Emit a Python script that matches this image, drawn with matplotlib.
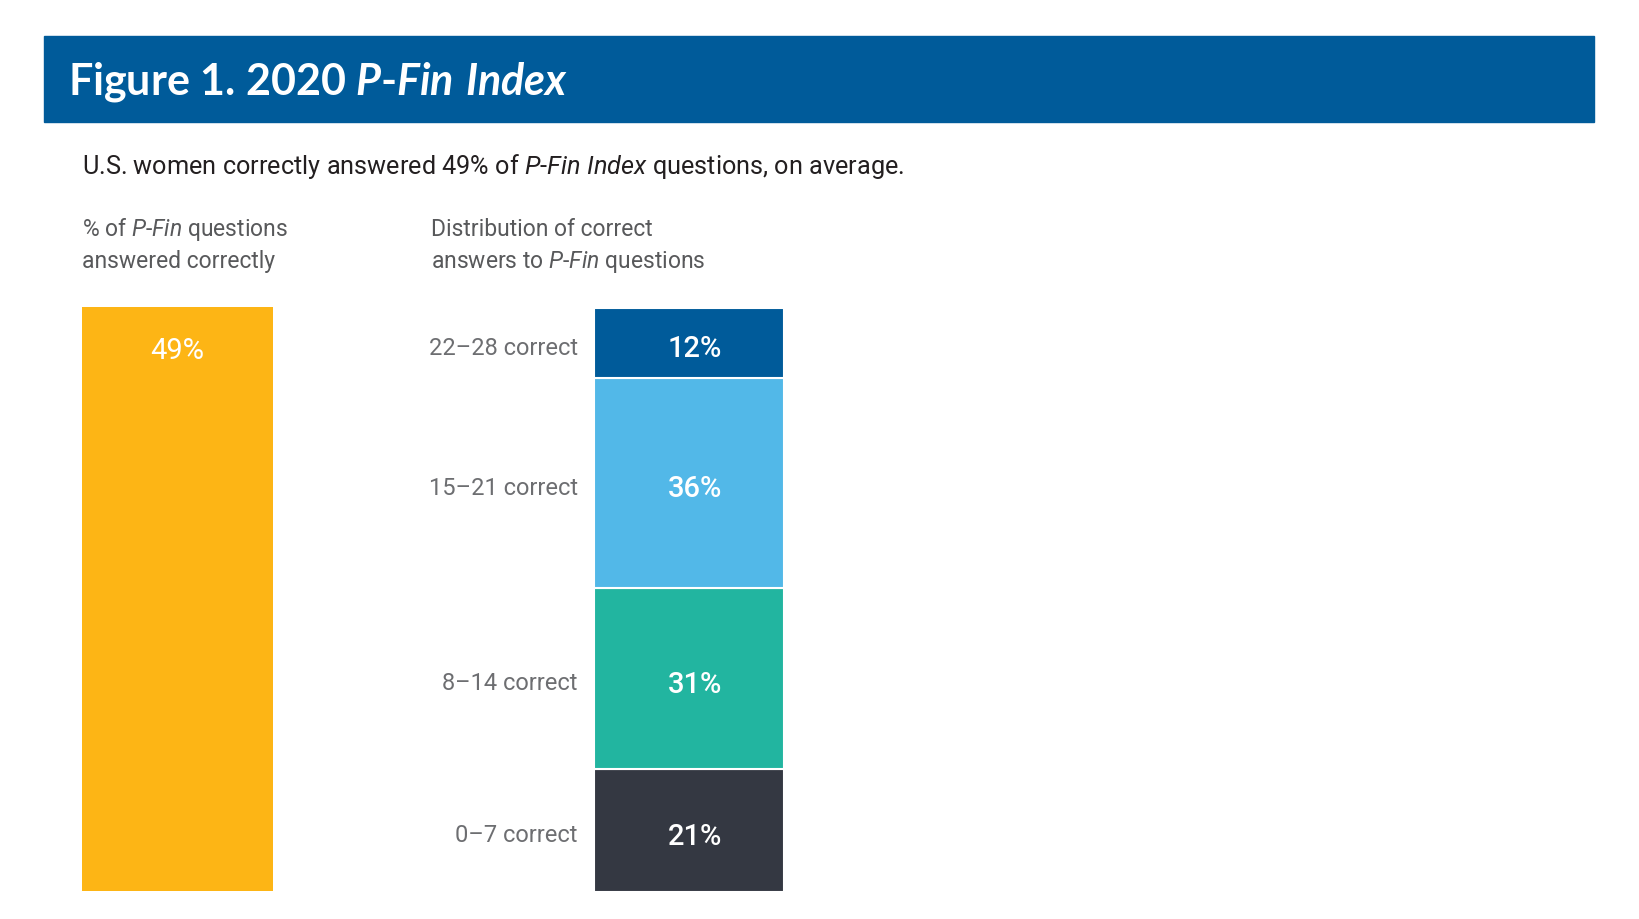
import matplotlib
matplotlib.use("Agg")
import matplotlib.pyplot as plt
from matplotlib.patches import Rectangle

# data
avg_label = "49%"
avg_value = 49
groups = ["0\u20137 correct", "8\u201314 correct", "15\u201321 correct", "22\u201328 correct"]
shares = [21, 31, 36, 12]

BODY = "Roboto"
HEAD = "Lato"
BLUE = "#005b9a"
SEG_COLORS = ["#343842", "#22b5a0", "#52b8e8", "#005b9a"]

plt.rcParams["mathtext.fontset"] = "custom"
plt.rcParams["mathtext.rm"] = BODY
plt.rcParams["mathtext.it"] = BODY + ":italic"
plt.rcParams["mathtext.bfit"] = HEAD + ":italic:bold"

W, H = 1640, 920
fig = plt.figure(figsize=(W / 100, H / 100), dpi=100)
fig.patch.set_facecolor("white")


def fx(px):
    return px / W


def fy(py):
    return 1 - py / H


# title banner
fig.patches.append(Rectangle((fx(44), fy(123)), fx(1594) - fx(44), fy(37) - fy(123),
                             transform=fig.transFigure, color=BLUE, zorder=0))
fig.text(fx(68), fy(95), r"Figure 1. 2020 $\mathbfit{P}$-$\mathbfit{Fin\ Index}$",
         fontsize=31, fontweight="bold", family=HEAD, color="white", va="baseline")

fig.text(fx(82), fy(174),
         r"U.S. women correctly answered 49% of $\mathit{P}$-$\mathit{Fin\ Index}$ questions, on average.",
         fontsize=18.2, family=BODY, color="#231f20", va="baseline")

hdr = dict(fontsize=16.5, family=BODY, color="#58595b", va="baseline")
fig.text(fx(82), fy(236), r"% of $\mathit{P}$-$\mathit{Fin}$ questions", **hdr)
fig.text(fx(82), fy(268), "answered correctly", **hdr)
fig.text(fx(431), fy(236), "Distribution of correct", **hdr)
fig.text(fx(431), fy(268), r"answers to $\mathit{P}$-$\mathit{Fin}$ questions", **hdr)

# left panel: average share
ax1 = fig.add_axes([fx(82), fy(892), fx(273) - fx(82), fy(308) - fy(892)])
ax1.bar([0], [avg_value], width=1, color="#fdb515")
ax1.set_xlim(-0.5, 0.5)
ax1.set_ylim(0, avg_value)
ax1.annotate(avg_label, xy=(0, avg_value), xytext=(0, -43), textcoords="offset pixels",
             ha="center", va="center", fontsize=21, family=BODY, color="white")
ax1.axis("off")

# right panel: stacked distribution
ax2 = fig.add_axes([fx(594), fy(893), fx(784) - fx(594), fy(309) - fy(893)])
bottom = 0
for lab, val, col in zip(groups, shares, SEG_COLORS):
    ax2.bar([0], [val], bottom=bottom, width=1, color=col, edgecolor="white", linewidth=1.5)
    mid = bottom + val / 2
    ax2.annotate(f"{val}%", xy=(0, mid), xytext=(6, -5), textcoords="offset pixels",
                 ha="center", va="center", fontsize=21, fontweight="medium",
                 family=BODY, color="white")
    ax2.annotate(lab, xy=(-0.5, mid), xytext=(-16, -4), textcoords="offset pixels",
                 ha="right", va="center", fontsize=17, family=BODY, color="#6d6e71")
    bottom += val
ax2.set_xlim(-0.5, 0.5)
ax2.set_ylim(0, 100)
ax2.axis("off")

fig.savefig("out.png", dpi=100)
